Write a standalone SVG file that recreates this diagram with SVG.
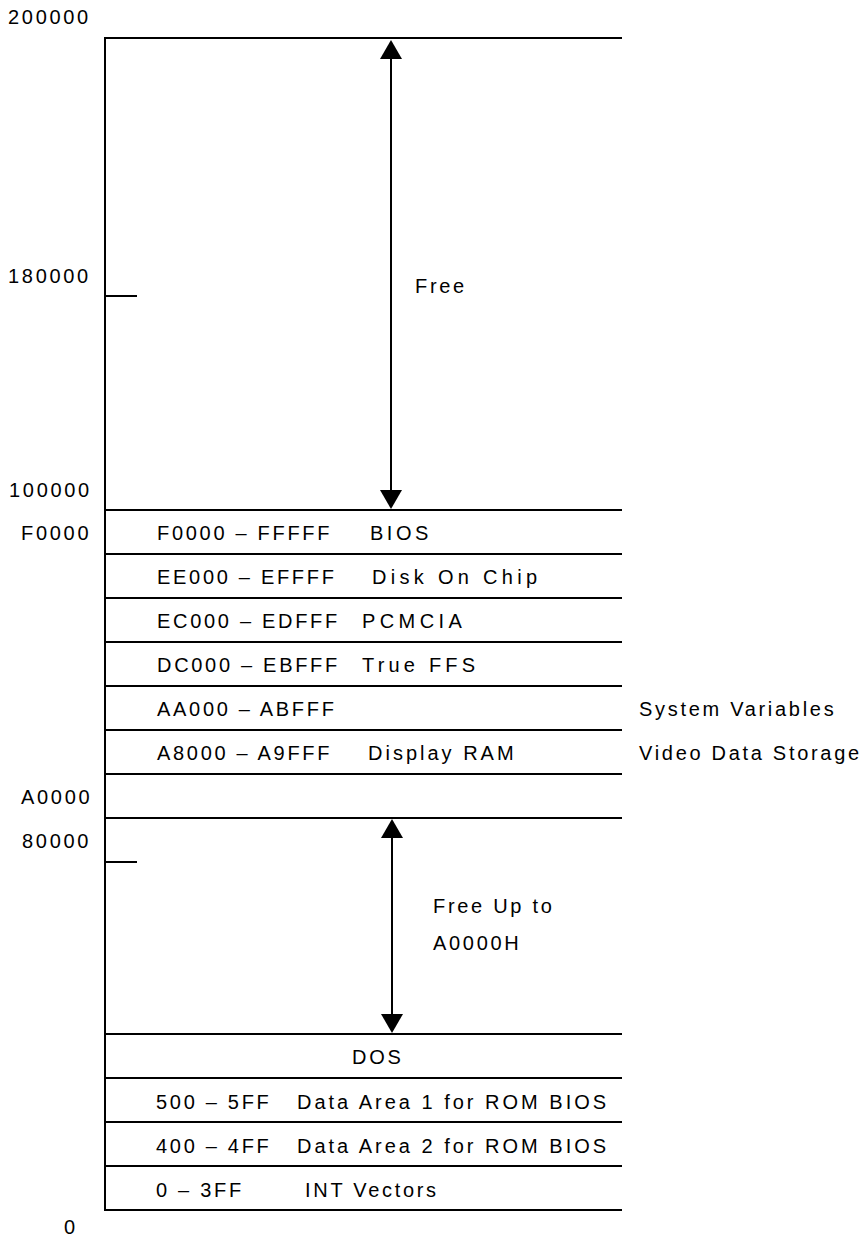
<svg xmlns="http://www.w3.org/2000/svg" width="864" height="1245" viewBox="0 0 864 1245">
<style>
text { font-family: "Liberation Sans", Arial, sans-serif; font-size: 20px; letter-spacing: 2.7px; fill: #000; }
.ln { stroke: #000; stroke-width: 2; fill: none; }
.arr { stroke: #000; stroke-width: 2; fill: none; marker-start: url(#ah); marker-end: url(#ah); }
</style>
<defs>
<marker id="ah" viewBox="0 0 19 22" refX="0" refY="11" markerWidth="19" markerHeight="22" markerUnits="userSpaceOnUse" orient="auto-start-reverse">
<path d="M0,0 L19,11 L0,22 z" fill="#000"/>
</marker>
</defs>
<rect width="864" height="1245" fill="#fff"/>
<g id="axis">
<path class="ln" d="M105,37 V1210"/>
<path class="ln" d="M105,296 H137 M105,862 H137"/>
<text x="8" y="24">200000</text>
<text x="8" y="283">180000</text>
<text x="9" y="497">100000</text>
<text x="21" y="540">F0000</text>
<text x="21" y="804">A0000</text>
<text x="22" y="848">80000</text>
<text x="64" y="1234">0</text>
</g>
<g id="free">
<path class="ln" d="M105,38 H622"/>
<text x="415" y="293">Free</text>
</g>
<g id="bios">
<path class="ln" d="M105,510 H622"/>
<text x="157" y="540">F0000 – FFFFF</text>
<text x="370" y="540" style="letter-spacing:3.5px">BIOS</text>
</g>
<g id="diskonchip">
<path class="ln" d="M105,554 H622"/>
<text x="157" y="584">EE000 – EFFFF</text>
<text x="372" y="584" style="letter-spacing:4.3px">Disk On Chip</text>
</g>
<g id="pcmcia">
<path class="ln" d="M105,598 H622"/>
<text x="157" y="628">EC000 – EDFFF</text>
<text x="362" y="628" style="letter-spacing:4.4px">PCMCIA</text>
</g>
<g id="trueffs">
<path class="ln" d="M105,642 H622"/>
<text x="157" y="672">DC000 – EBFFF</text>
<text x="362" y="672" style="letter-spacing:4.2px">True FFS</text>
</g>
<g id="sysvars">
<path class="ln" d="M105,686 H622"/>
<text x="157" y="716">AA000 – ABFFF</text>
<text x="639" y="716">System Variables</text>
</g>
<g id="displayram">
<path class="ln" d="M105,730 H622"/>
<text x="157" y="760">A8000 – A9FFF</text>
<text x="368" y="760" style="letter-spacing:3px">Display RAM</text>
<text x="639" y="760">Video Data Storage</text>
</g>
<g id="gap">
<path class="ln" d="M105,774 H622"/>
</g>
<g id="freeupto">
<path class="ln" d="M105,818 H622"/>
<text x="433" y="913">Free Up to</text>
<text x="433" y="950">A0000H</text>
</g>
<g id="dos">
<path class="ln" d="M105,1034 H622"/>
<text x="352" y="1064">DOS</text>
</g>
<g id="data1">
<path class="ln" d="M105,1078 H622"/>
<text x="156" y="1109">500 – 5FF</text>
<text x="297" y="1109" style="letter-spacing:3px">Data Area 1 for ROM BIOS</text>
</g>
<g id="data2">
<path class="ln" d="M105,1122 H622"/>
<text x="156" y="1153">400 – 4FF</text>
<text x="297" y="1153" style="letter-spacing:3px">Data Area 2 for ROM BIOS</text>
</g>
<g id="intvec">
<path class="ln" d="M105,1166 H622"/>
<text x="156" y="1197">0 – 3FF</text>
<text x="305" y="1197">INT Vectors</text>
<path class="ln" d="M104,1210 H622"/>
</g>
<g id="connectors">
<path class="arr" d="M391,59 V490"/>
<path class="arr" d="M392,838 V1014"/>
</g>
</svg>
